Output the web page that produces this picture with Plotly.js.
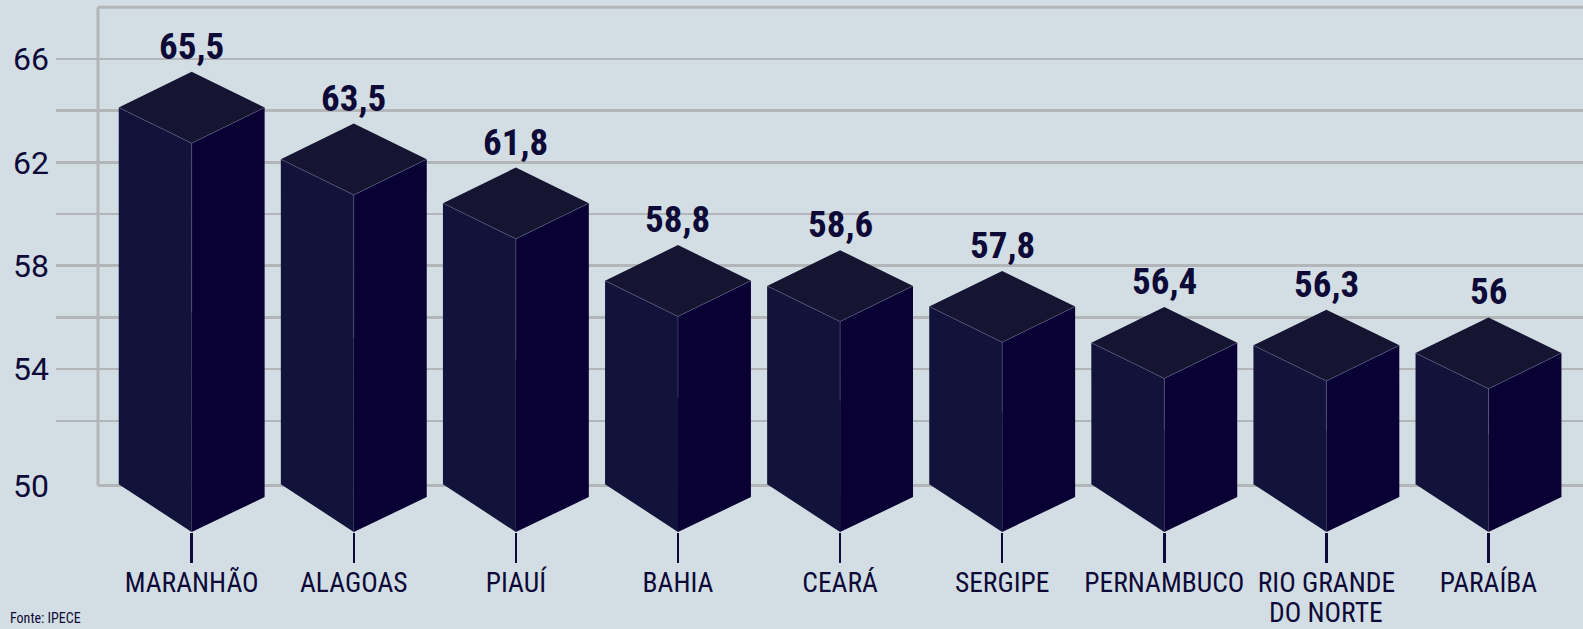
<!DOCTYPE html>
<html>
<head>
<meta charset="utf-8">
<script src="https://cdn.plot.ly/plotly-3.0.1.min.js"></script>
<style>html,body{margin:0;padding:0;background:#d3dee4;}#chart{width:1583px;height:629px;}</style>
</head>
<body>
<div id="chart"></div>
<script>
// ---- data ----
const categories = ['MARANHÃO','ALAGOAS','PIAUÍ','BAHIA','CEARÁ','SERGIPE','PERNAMBUCO','RIO GRANDE\nDO NORTE','PARAÍBA'];
const values = [65.5, 63.5, 61.8, 58.8, 58.6, 57.8, 56.4, 56.3, 56];
const yTickVals = [49.5, 54, 58, 62, 66];
const yTickText = ['50', '54', '58', '62', '66'];
const gridVals = [52, 54, 56, 58, 60, 62, 64, 66];
const sourceText = 'Fonte: IPECE';

// ---- style ----
const BG = '#d3dee4';
const GRID = '#b3b6b8';
const INK = '#0d0a38';
const LEFT_FACE = '#12133b';
const RIGHT_FACE = '#090133';
const TOP_FACE = '#151532';
const EDGE = 'rgba(120,120,165,0.55)';
const HALF = 0.45, RISE = 1.38;
const BASE_LEFT = 49.55, BASE_RIGHT = 49.05, BASE_FRONT = 47.7;
const FONT = "'Roboto Condensed', 'Liberation Sans Narrow', 'DejaVu Sans Condensed', Roboto, sans-serif";
const CAT_SIZE = 27.5;

const traces = [];
const idx = categories.map((c, i) => i);
// first line of each category goes on the axis, further lines are set tighter below it
const firstLines = categories.map(c => c.split('\n')[0]);
values.forEach((v, i) => {
  const common = {type: 'scatter', mode: 'lines', fill: 'toself', hoverinfo: 'skip', showlegend: false};
  traces.push(Object.assign({}, common, {
    x: [i - HALF, i, i, i - HALF, i - HALF],
    y: [v - RISE, v - 2 * RISE, BASE_FRONT, BASE_LEFT, v - RISE],
    fillcolor: LEFT_FACE, line: {width: 0, color: LEFT_FACE}
  }));
  traces.push(Object.assign({}, common, {
    x: [i, i + HALF, i + HALF, i, i],
    y: [v - 2 * RISE, v - RISE, BASE_RIGHT, BASE_FRONT, v - 2 * RISE],
    fillcolor: RIGHT_FACE, line: {width: 0, color: RIGHT_FACE}
  }));
  traces.push(Object.assign({}, common, {
    x: [i, i + HALF, i, i - HALF, i],
    y: [v, v - RISE, v - 2 * RISE, v - RISE, v],
    fillcolor: TOP_FACE, line: {width: 0, color: TOP_FACE}
  }));
  traces.push({
    type: 'scatter', mode: 'lines', hoverinfo: 'skip', showlegend: false,
    x: [i - HALF, i, i + HALF, null, i, i],
    y: [v - RISE, v - 2 * RISE, v - RISE, null, v - 2 * RISE, (v - 2 * RISE + BASE_FRONT) / 2 + 1],
    line: {color: EDGE, width: 0.7}
  });
});

const annotations = values.map((v, i) => ({
  x: i, y: v, xref: 'x', yref: 'y', yanchor: 'bottom', xanchor: 'center',
  text: String(v).replace('.', ','), showarrow: false, yshift: 2,
  font: {family: FONT, size: 37, color: INK, weight: 'bold'}
}));
categories.forEach((c, i) => {
  const rest = c.split('\n').slice(1);
  if (rest.length) {
    annotations.push({
      x: i, xref: 'x', yref: 'paper', y: -0.0875, xanchor: 'center', yanchor: 'middle',
      text: rest.join('<br>'), showarrow: false, borderpad: 0,
      font: {family: FONT, size: CAT_SIZE, color: INK}
    });
  }
});
annotations.push({
  xref: 'paper', yref: 'paper', x: -0.0314, y: -0.1155, xanchor: 'left', yanchor: 'bottom',
  text: sourceText, showarrow: false, font: {family: FONT, size: 14, color: INK}
});

const line = (x0, x1, y0, y1) => ({type: 'line', xref: 'paper', yref: 'y', x0, x1, y0, y1, layer: 'below', line: {color: GRID, width: 3}});
const layout = {
  width: 1583, height: 629,
  margin: {l: 56, r: 0, t: 0, b: 66, autoexpand: false},
  paper_bgcolor: BG, plot_bgcolor: BG,
  showlegend: false,
  xaxis: {
    range: [-0.837, 8.583], tickmode: 'array', tickvals: idx, ticktext: firstLines,
    ticks: 'inside', ticklen: 30, tickwidth: 2.5, tickcolor: INK,
    ticklabelstandoff: 0,
    showgrid: false, zeroline: false, showline: false, automargin: false,
    tickfont: {family: FONT, size: CAT_SIZE, color: INK}, fixedrange: true
  },
  yaxis: {
    range: [46.5, 68.28], tickmode: 'array', tickvals: yTickVals, ticktext: yTickText,
    ticks: '', showgrid: false, zeroline: false, showline: false, automargin: false,
    ticklabelstandoff: 6,
    tickfont: {family: 'Roboto, sans-serif', size: 32, color: INK},
    minor: {tickmode: 'array', tickvals: gridVals, showgrid: true, gridcolor: GRID, gridwidth: 2.5, ticks: ''},
    fixedrange: true
  },
  shapes: [
    line(0.0275, 0.0275, 49.5, 68),
    line(0.0275, 1, 68, 68),
    line(0.0275, 1, 49.5, 49.5)
  ],
  annotations: annotations
};
Plotly.newPlot('chart', traces, layout, {staticPlot: true, displayModeBar: false});
</script>
</body>
</html>
